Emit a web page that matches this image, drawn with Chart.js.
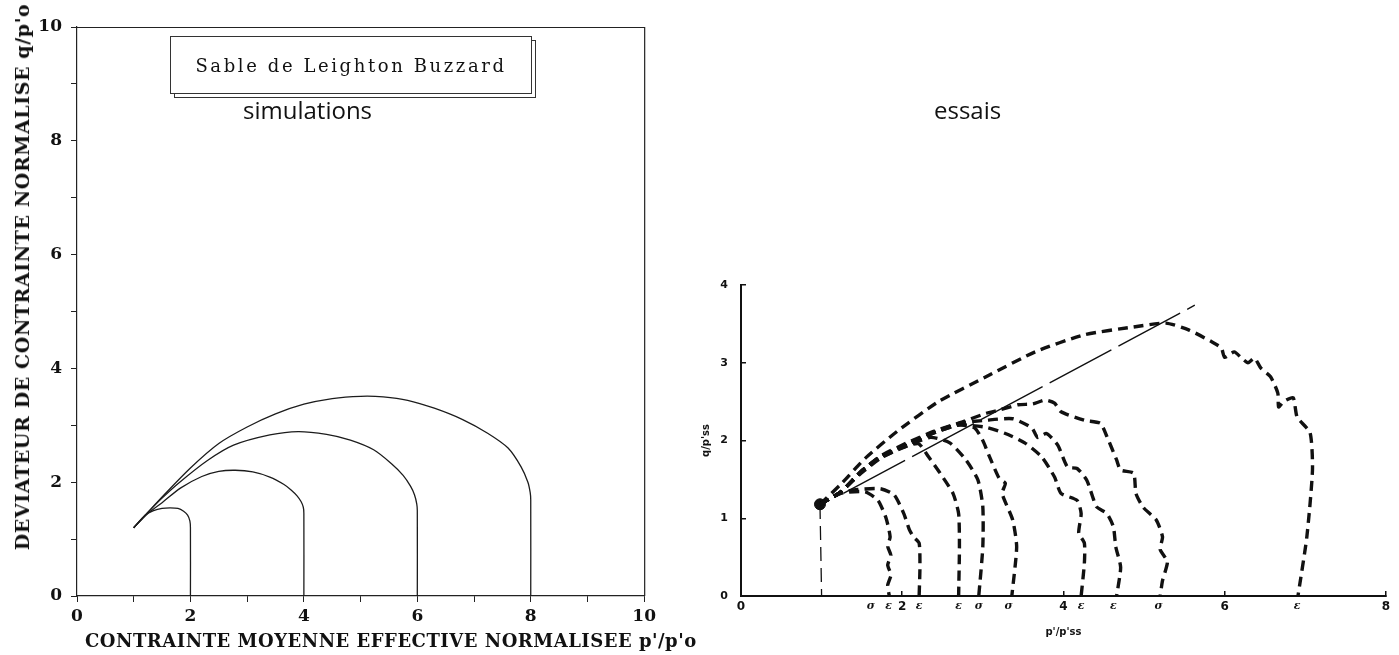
<!DOCTYPE html>
<html>
<head>
<meta charset="utf-8">
<script src="https://cdn.jsdelivr.net/npm/chart.js@4.4.1/dist/chart.umd.min.js"></script>
<style>
html,body{margin:0;padding:0;background:#fff;}
#wrap{position:relative;width:1399px;height:655px;overflow:hidden;background:#fff;}
#boxL{position:absolute;left:0;top:0;width:660px;height:655px;}
#boxR{position:absolute;left:700px;top:0;width:699px;height:655px;}
.t{position:absolute;white-space:nowrap;color:#111;}
#ytL{left:22px;top:277px;transform:translate(-50%,-50%) rotate(-90deg);font:bold 19px "DejaVu Serif";letter-spacing:0.6px;}
#xtL{left:85px;top:640px;transform:translateY(-50%);font:bold 18px "DejaVu Serif";letter-spacing:0.5px;}
#shadow{position:absolute;left:174px;top:40px;width:360px;height:56px;border:1px solid #333;}
#legend{position:absolute;left:170px;top:36px;width:360px;height:56px;border:1px solid #333;background:#fff;display:flex;align-items:center;justify-content:center;font:18px "DejaVu Serif";letter-spacing:2.6px;color:#111;}
.cap{font:24px "Open Sans";line-height:24px;top:98px;color:#111;}
</style>
</head>
<body>
<div id="wrap">
  <div id="boxL"><canvas id="cL"></canvas></div>
  <div id="boxR"><canvas id="cR"></canvas></div>
  <div class="t" id="ytL">DEVIATEUR DE CONTRAINTE NORMALISE q/p'o</div>
  <div class="t" id="xtL">CONTRAINTE MOYENNE EFFECTIVE NORMALISEE p'/p'o</div>
  <div id="shadow"></div>
  <div id="legend">Sable de Leighton Buzzard</div>
  <div class="t cap" style="left:243px;">simulations</div>
  <div class="t cap" style="left:934px;">essais</div>
</div>
<script>
// ---------- Left panel: simulations (p'/p'o , q/p'o) ----------
const simA_p = [2, 2, 1.99, 1.95, 1.88, 1.78, 1.64, 1.5, 1.35, 1.2, 1.0];
const simA_q = [0, 1.2, 1.32, 1.42, 1.49, 1.54, 1.55, 1.54, 1.5, 1.42, 1.2];
const simB_p = [4, 4, 3.99, 3.95, 3.88, 3.78, 3.65, 3.4, 3.1, 2.79, 2.5, 2.2, 1.83, 1.5, 1.24, 1.0];
const simB_q = [0, 1.45, 1.56, 1.66, 1.76, 1.86, 1.96, 2.09, 2.18, 2.21, 2.19, 2.1, 1.9, 1.64, 1.44, 1.2];
const simC_p = [6, 6, 5.99, 5.95, 5.88, 5.75, 5.55, 5.23, 4.82, 4.4, 3.9, 3.4, 2.76, 2.3, 1.8, 1.5, 1.24, 1.0];
const simC_q = [0, 1.5, 1.62, 1.78, 1.93, 2.12, 2.32, 2.57, 2.74, 2.84, 2.89, 2.83, 2.65, 2.38, 1.99, 1.72, 1.46, 1.2];
const simD_p = [8, 8, 7.99, 7.95, 7.83, 7.6, 7.24, 6.8, 6.3, 5.83, 5.4, 5.0, 4.5, 4.0, 3.5, 3.0, 2.5, 2.0, 1.5, 1.24, 1.0];
const simD_q = [0, 1.69, 1.82, 2.0, 2.27, 2.6, 2.86, 3.1, 3.3, 3.44, 3.5, 3.51, 3.47, 3.37, 3.2, 2.97, 2.68, 2.25, 1.74, 1.46, 1.2];
const leftTicks = [0, 2, 4, 6, 8, 10];

// ---------- Right panel: essais (p'/p'ss , q/p'ss) ----------
const e1_p = [0.98, 1.24, 1.54, 1.70, 1.80, 1.85, 1.82, 1.86, 1.82, 1.86, 1.82, 1.84];
const e1_q = [1.18, 1.32, 1.34, 1.23, 1.0, 0.76, 0.64, 0.52, 0.40, 0.27, 0.14, 0];
const e2_p = [0.98, 1.24, 1.45, 1.73, 1.90, 2.02, 2.09, 2.14, 2.21, 2.22, 2.21];
const e2_q = [1.18, 1.33, 1.37, 1.38, 1.30, 1.06, 0.85, 0.76, 0.68, 0.37, 0];
const e3_p = [0.98, 1.24, 1.49, 1.73, 1.98, 2.2, 2.32, 2.47, 2.63, 2.70, 2.71, 2.70];
const e3_q = [1.18, 1.34, 1.58, 1.77, 1.90, 1.96, 1.80, 1.58, 1.32, 1.06, 0.63, 0];
const e4_p = [0.98, 1.24, 1.49, 1.73, 2.06, 2.35, 2.59, 2.79, 2.94, 3.0, 3.0, 2.95];
const e4_q = [1.18, 1.34, 1.6, 1.78, 1.93, 2.04, 1.97, 1.75, 1.49, 1.15, 0.63, 0];
const e5_p = [0.98, 1.24, 1.49, 1.73, 2.06, 2.4, 2.7, 2.9, 3.0, 3.08, 3.2, 3.28, 3.24, 3.37, 3.42, 3.36];
const e5_q = [1.18, 1.34, 1.6, 1.79, 1.95, 2.1, 2.2, 2.16, 2.0, 1.8, 1.52, 1.45, 1.32, 0.98, 0.63, 0];
const e6_p = [0.98, 1.24, 1.49, 1.73, 2.06, 2.4, 2.7, 3.04, 3.28, 3.52, 3.73, 3.89, 3.97, 4.17, 4.22, 4.19, 4.26, 4.26, 4.22];
const e6_q = [1.18, 1.34, 1.6, 1.79, 1.95, 2.1, 2.2, 2.17, 2.09, 1.97, 1.79, 1.53, 1.32, 1.23, 1.06, 0.81, 0.68, 0.42, 0];
const e7_p = [0.98, 1.24, 1.49, 1.73, 2.06, 2.4, 2.7, 3.04, 3.37, 3.61, 3.68, 3.79, 3.93, 4.05, 4.17, 4.29, 4.41, 4.54, 4.62, 4.65, 4.71, 4.66];
const e7_q = [1.18, 1.34, 1.6, 1.79, 1.95, 2.11, 2.22, 2.26, 2.28, 2.16, 2.04, 2.09, 1.94, 1.66, 1.64, 1.49, 1.15, 1.06, 0.89, 0.63, 0.37, 0];
const e8_p = [0.98, 1.24, 1.49, 1.73, 2.06, 2.4, 2.75, 3.04, 3.2, 3.44, 3.62, 3.77, 3.89, 3.97, 4.26, 4.46, 4.54, 4.66, 4.71, 4.87, 4.9, 4.99, 5.15, 5.23, 5.2, 5.29, 5.23, 5.2];
const e8_q = [1.18, 1.34, 1.6, 1.8, 1.97, 2.12, 2.24, 2.35, 2.39, 2.46, 2.47, 2.52, 2.48, 2.37, 2.26, 2.22, 2.05, 1.75, 1.62, 1.58, 1.32, 1.14, 0.98, 0.76, 0.6, 0.44, 0.2, 0];
const e9_p = [0.98, 1.25, 1.54, 1.94, 2.45, 3.04, 3.65, 4.26, 4.87, 5.27, 5.56, 5.84, 5.96, 6.0, 6.12, 6.21, 6.29, 6.37, 6.45, 6.57, 6.66, 6.67, 6.73, 6.85, 6.9, 7.06, 7.09, 7.02, 6.91];
const e9_q = [1.18, 1.45, 1.77, 2.12, 2.5, 2.82, 3.14, 3.36, 3.46, 3.51, 3.42, 3.27, 3.19, 3.07, 3.14, 3.06, 3.0, 3.06, 2.93, 2.82, 2.61, 2.43, 2.5, 2.55, 2.3, 2.1, 1.62, 0.76, 0];
const csl_p = [1.27, 5.63];
const csl_q = [1.32, 3.74];
const init_p = [0.98, 1.0];
const init_q = [1.17, 0];
const start_p = [0.98];
const start_q = [1.18];
const endMark_p = [1.61, 1.83, 2.21, 2.70, 2.95, 3.32, 4.22, 4.62, 5.18, 6.90];
const endMark_t = ['σ', 'ε', 'ε', 'ε', 'σ', 'σ', 'ε', 'ε', 'σ', 'ε'];

function pts(p, q) { return p.map((v, i) => ({x: v, y: q[i]})); }

// ---------- Left chart ----------
const frame = {
  id: 'frame',
  afterDatasetsDraw(c) {
    const a = c.chartArea, ctx = c.ctx;
    ctx.save();
    ctx.strokeStyle = '#222'; ctx.lineWidth = 1.2;
    ctx.beginPath();
    ctx.moveTo(a.left, a.top + 0.5);
    ctx.lineTo(a.right + 0.5, a.top + 0.5);
    ctx.lineTo(a.right + 0.5, a.bottom);
    ctx.stroke();
    ctx.restore();
  }
};
const simStyle = {borderColor: '#1c1c1c', borderWidth: 1.3, pointRadius: 0, showLine: true, tension: 0.3, fill: false};
new Chart(document.getElementById('cL'), {
  type: 'scatter',
  data: {datasets: [
    Object.assign({data: pts(simA_p, simA_q)}, simStyle),
    Object.assign({data: pts(simB_p, simB_q)}, simStyle),
    Object.assign({data: pts(simC_p, simC_q)}, simStyle),
    Object.assign({data: pts(simD_p, simD_q)}, simStyle)
  ]},
  options: {
    responsive: true, maintainAspectRatio: false, animation: false,
    layout: {padding: {top: 27, right: 15, left: 0, bottom: 0}},
    plugins: {legend: {display: false}, tooltip: {enabled: false}},
    scales: {
      x: {
        type: 'linear', min: 0, max: 10,
        afterFit(s) { s.height = 59; },
        grid: {drawOnChartArea: false, tickLength: 6, color: '#222', lineWidth: 1},
        border: {color: '#222', width: 1.2},
        ticks: {stepSize: 1, padding: 4, color: '#111', font: {family: 'DejaVu Serif', size: 17, weight: 'bold'},
                callback: v => leftTicks.includes(v) ? String(v) : ''}
      },
      y: {
        type: 'linear', min: 0, max: 10,
        afterFit(s) { s.width = 77; },
        grid: {drawOnChartArea: false, tickLength: 6, color: '#222', lineWidth: 1},
        border: {color: '#222', width: 1.2},
        ticks: {stepSize: 1, padding: 9, color: '#111', font: {family: 'DejaVu Serif', size: 17, weight: 'bold'},
                callback: v => leftTicks.includes(v) ? String(v) : ''}
      }
    }
  },
  plugins: [frame]
});

// ---------- Right chart ----------
const marks = {
  id: 'marks',
  afterDraw(c) {
    const xs = c.scales.x, ctx = c.ctx;
    ctx.save();
    ctx.fillStyle = '#111';
    ctx.font = 'italic bold 11px "DejaVu Serif"';
    ctx.textAlign = 'center'; ctx.textBaseline = 'middle';
    endMark_p.forEach((p, i) => {
      ctx.fillText(endMark_t[i], xs.getPixelForValue(p), xs.top + 10);
    });
    ctx.restore();
  }
};
const dashStyle = {borderColor: '#111', borderWidth: 3.4, borderDash: [10, 6], pointRadius: 0, showLine: true, tension: 0.2, fill: false, borderCapStyle: 'butt'};
const expSeries = [[e1_p, e1_q], [e2_p, e2_q], [e3_p, e3_q], [e4_p, e4_q], [e5_p, e5_q], [e6_p, e6_q], [e7_p, e7_q], [e8_p, e8_q], [e9_p, e9_q]];
const rightSets = expSeries.map(s => Object.assign({data: pts(s[0], s[1])}, dashStyle));
rightSets.push({data: pts(csl_p, csl_q), borderColor: '#111', borderWidth: 1.4, borderDash: [70, 8], pointRadius: 0, showLine: true});
rightSets.push({data: pts(init_p, init_q), borderColor: '#111', borderWidth: 1.3, borderDash: [14, 7], pointRadius: 0, showLine: true});
rightSets.push({data: pts(start_p, start_q), backgroundColor: '#111', borderColor: '#111', pointRadius: 5.5, showLine: false});

new Chart(document.getElementById('cR'), {
  type: 'scatter',
  data: {datasets: rightSets},
  options: {
    responsive: true, maintainAspectRatio: false, animation: false,
    layout: {padding: {top: 285, right: 3, left: 0, bottom: 0}},
    plugins: {legend: {display: false}, tooltip: {enabled: false}},
    scales: {
      x: {
        type: 'linear', min: 0, max: 8,
        afterFit(s) { s.height = 59; },
        grid: {drawOnChartArea: false, tickLength: -5, color: '#111', lineWidth: 1.5},
        border: {color: '#111', width: 2},
        ticks: {stepSize: 2, padding: 9, color: '#111', font: {family: 'DejaVu Sans', size: 12, weight: 'bold'}},
        title: {display: true, text: "p'/p'ss", color: '#111', font: {family: 'DejaVu Sans', size: 10, weight: 'bold'}, padding: {top: 0, bottom: 17}}
      },
      y: {
        type: 'linear', min: 0, max: 4,
        afterFit(s) { s.width = 41; },
        grid: {drawOnChartArea: false, tickLength: -5, color: '#111', lineWidth: 1.5},
        border: {color: '#111', width: 2},
        ticks: {stepSize: 1, padding: 18, color: '#111', font: {family: 'DejaVu Sans', size: 11, weight: 'bold'}},
        title: {display: true, text: "q/p'ss", color: '#111', font: {family: 'DejaVu Sans', size: 10, weight: 'bold'}, padding: {top: 0, bottom: 0}}
      }
    }
  },
  plugins: [marks]
});
</script>
</body>
</html>
